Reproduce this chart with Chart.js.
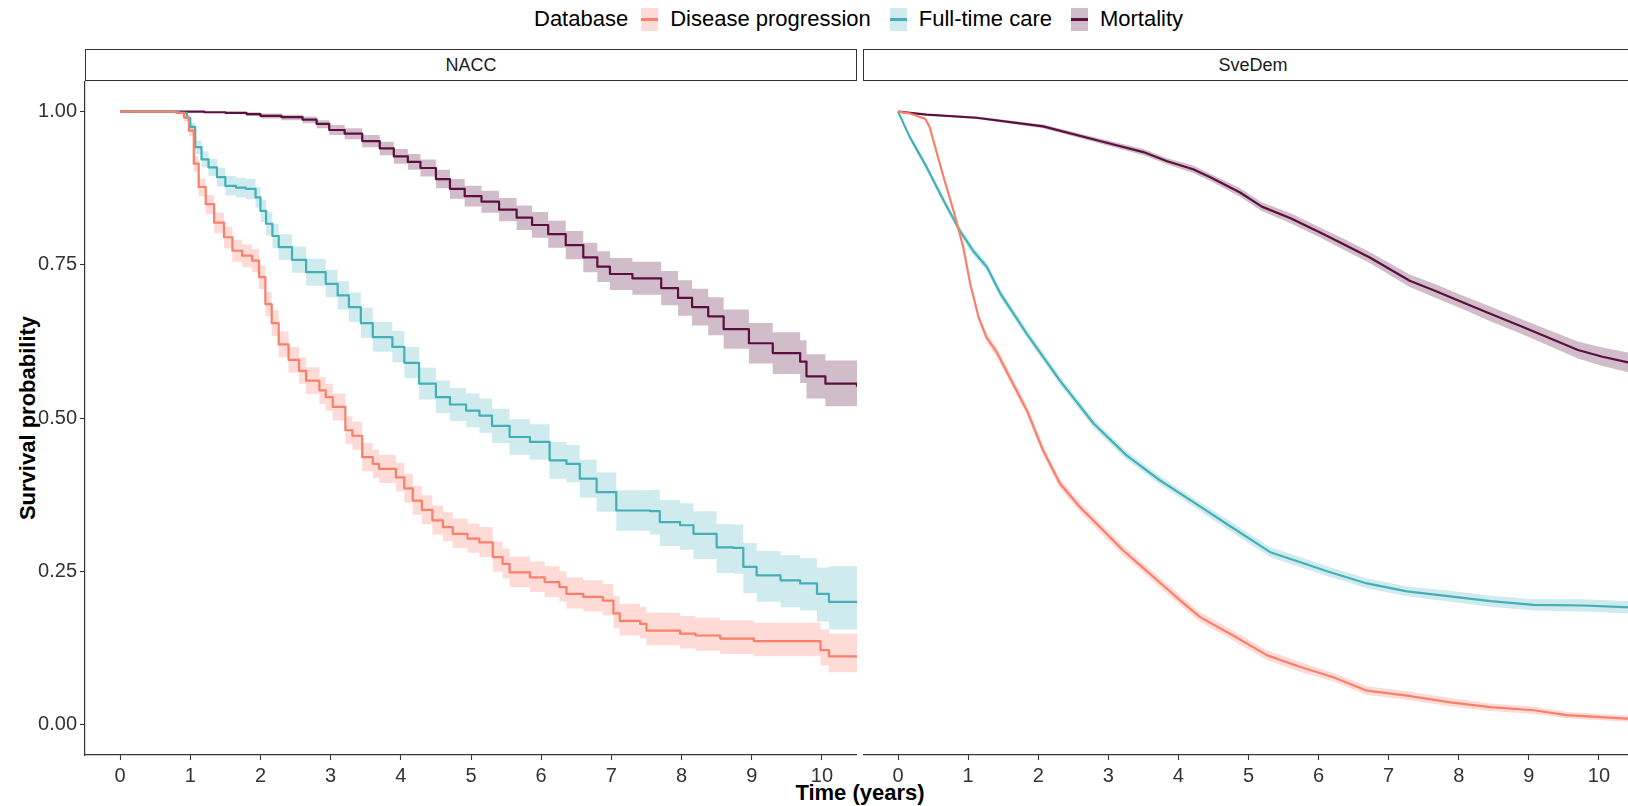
<!DOCTYPE html>
<html>
<head>
<meta charset="utf-8">
<script src="https://cdn.jsdelivr.net/npm/chart.js@4.4.0/dist/chart.umd.min.js"></script>
<style>
    html, body { margin: 0; padding: 0; background: #fff; }
    body { width: 1628px; height: 806px; position: relative; overflow: hidden; font-family: 'Liberation Sans', Arial, sans-serif; }
    canvas { position: absolute; top: 81px; }
    #left { left: 0; }
    #right { left: 863px; }
    .legend { position: absolute; left: 534px; top: 7px; height: 24px; display: flex; align-items: center; font-size: 22px; color: #000; white-space: nowrap; }
    .legend .key { position: relative; width: 17px; height: 23px; margin: 0 12px 0 0; }
    .legend .key span { position: absolute; left: 0; right: 0; top: 10px; height: 3px; }
    .legend .title { margin-right: 13px; }
    .legend .lab { margin-right: 19px; }
    .strip { position: absolute; top: 49px; height: 32px; box-sizing: border-box; border: 1.4px solid #333; background: #fff; font-size: 18px; color: #1a1a1a; display: flex; align-items: center; justify-content: center; }
    .xtitle { position: absolute; left: 0; width: 1720px; top: 780px; text-align: center; font-size: 22px; font-weight: bold; }
    .ytitle { position: absolute; left: 28px; top: 418px; transform: translate(-50%, -50%) rotate(-90deg); font-size: 22px; font-weight: bold; white-space: nowrap; }
</style>
</head>
<body>
<div class="legend" id="legend"><span class="title">Database</span></div>
<div class="strip" style="left:85px;width:772px;">NACC</div>
<div class="strip" style="left:863px;width:780px;">SveDem</div>
<div class="xtitle">Time (years)</div>
<div class="ytitle">Survival probability</div>
<canvas id="left" width="857" height="725"></canvas>
<canvas id="right" width="771" height="725"></canvas>
<script>
// --- legend / series
const seriesNames = ['Disease progression', 'Full-time care', 'Mortality'];
const lineColors = ['#FA7F6A', '#43AFB6', '#5B0F3F'];
const bandColors = ['rgba(250,127,106,0.28)', 'rgba(67,175,182,0.25)', 'rgba(91,15,63,0.28)'];

// --- axes
const xTicks = [0, 1, 2, 3, 4, 5, 6, 7, 8, 9, 10];
const yTicks = [0, 0.25, 0.5, 0.75, 1];

// --- NACC: disease progression
const naccProgTime = [0, 0.80, 0.91, 0.98, 1.05, 1.12, 1.22, 1.34, 1.48, 1.60, 1.74, 1.88, 1.98, 2.07, 2.16, 2.26, 2.40, 2.55, 2.65, 2.84, 2.93, 3.03, 3.21, 3.31, 3.45, 3.60, 3.69, 3.93, 4.05, 4.17, 4.30, 4.45, 4.60, 4.74, 4.95, 5.12, 5.31, 5.45, 5.55, 5.84, 6.05, 6.26, 6.36, 6.60, 6.88, 7.03, 7.12, 7.41, 7.50, 7.98, 8.20, 8.55, 9.03, 9.98, 10.10, 10.50];
const naccProgSurv = [1, 0.998, 0.99, 0.969, 0.915, 0.877, 0.849, 0.819, 0.795, 0.773, 0.765, 0.757, 0.730, 0.686, 0.655, 0.620, 0.595, 0.577, 0.561, 0.545, 0.534, 0.518, 0.480, 0.471, 0.436, 0.425, 0.417, 0.403, 0.385, 0.365, 0.350, 0.333, 0.322, 0.311, 0.303, 0.297, 0.273, 0.262, 0.248, 0.240, 0.232, 0.224, 0.213, 0.208, 0.202, 0.181, 0.169, 0.164, 0.153, 0.148, 0.145, 0.140, 0.136, 0.121, 0.111, 0.111];
const naccProgLow = [1, 0.996, 0.984, 0.960, 0.902, 0.862, 0.833, 0.802, 0.777, 0.755, 0.746, 0.738, 0.710, 0.666, 0.634, 0.599, 0.574, 0.556, 0.539, 0.523, 0.512, 0.496, 0.458, 0.448, 0.413, 0.402, 0.394, 0.380, 0.362, 0.342, 0.327, 0.310, 0.299, 0.288, 0.280, 0.273, 0.249, 0.238, 0.224, 0.216, 0.208, 0.200, 0.189, 0.184, 0.178, 0.157, 0.145, 0.140, 0.129, 0.124, 0.120, 0.115, 0.111, 0.096, 0.085, 0.085];
const naccProgHigh = [1, 1, 0.995, 0.977, 0.927, 0.891, 0.864, 0.835, 0.812, 0.791, 0.783, 0.776, 0.749, 0.706, 0.676, 0.641, 0.616, 0.599, 0.583, 0.567, 0.556, 0.540, 0.503, 0.494, 0.459, 0.448, 0.440, 0.427, 0.409, 0.389, 0.374, 0.357, 0.346, 0.336, 0.328, 0.322, 0.298, 0.287, 0.274, 0.266, 0.258, 0.250, 0.240, 0.235, 0.229, 0.209, 0.197, 0.192, 0.182, 0.177, 0.174, 0.170, 0.166, 0.155, 0.148, 0.148];

// --- NACC: full-time care
const naccCareTime = [0, 0.84, 0.95, 1.00, 1.07, 1.16, 1.26, 1.38, 1.50, 1.65, 1.79, 1.93, 2.00, 2.08, 2.17, 2.26, 2.45, 2.65, 2.93, 3.10, 3.26, 3.43, 3.60, 3.88, 4.05, 4.26, 4.50, 4.70, 4.93, 5.12, 5.30, 5.55, 5.84, 6.12, 6.36, 6.55, 6.79, 7.07, 7.55, 7.69, 7.98, 8.17, 8.50, 8.74, 8.88, 9.07, 9.41, 9.69, 9.93, 10.10, 10.50];
const naccCareSurv = [1, 0.998, 0.99, 0.975, 0.942, 0.922, 0.909, 0.893, 0.879, 0.876, 0.874, 0.860, 0.838, 0.817, 0.797, 0.779, 0.758, 0.738, 0.719, 0.700, 0.681, 0.655, 0.632, 0.616, 0.590, 0.556, 0.534, 0.522, 0.512, 0.504, 0.487, 0.469, 0.461, 0.431, 0.425, 0.401, 0.379, 0.349, 0.348, 0.330, 0.325, 0.311, 0.289, 0.288, 0.257, 0.243, 0.235, 0.230, 0.213, 0.200, 0.200];
const naccCareLow = [1, 0.996, 0.985, 0.967, 0.931, 0.909, 0.895, 0.878, 0.863, 0.860, 0.857, 0.843, 0.820, 0.798, 0.777, 0.758, 0.737, 0.716, 0.697, 0.677, 0.657, 0.631, 0.608, 0.591, 0.565, 0.530, 0.508, 0.495, 0.485, 0.476, 0.459, 0.440, 0.432, 0.401, 0.395, 0.370, 0.347, 0.316, 0.310, 0.291, 0.285, 0.270, 0.247, 0.246, 0.214, 0.200, 0.191, 0.186, 0.168, 0.155, 0.155];
const naccCareHigh = [1, 1, 0.995, 0.982, 0.953, 0.935, 0.923, 0.908, 0.895, 0.892, 0.890, 0.877, 0.856, 0.836, 0.817, 0.800, 0.780, 0.760, 0.742, 0.723, 0.705, 0.680, 0.657, 0.642, 0.616, 0.582, 0.561, 0.549, 0.540, 0.532, 0.515, 0.498, 0.490, 0.461, 0.456, 0.432, 0.411, 0.382, 0.383, 0.366, 0.361, 0.348, 0.327, 0.326, 0.296, 0.283, 0.276, 0.271, 0.256, 0.258, 0.258];

// --- NACC: mortality
const naccMortTime = [0, 1.00, 1.20, 1.50, 1.80, 2.00, 2.30, 2.60, 2.80, 2.98, 3.20, 3.45, 3.70, 3.90, 4.10, 4.28, 4.50, 4.70, 4.91, 5.15, 5.40, 5.65, 5.87, 6.10, 6.35, 6.60, 6.80, 6.98, 7.30, 7.71, 7.95, 8.15, 8.38, 8.60, 8.96, 9.30, 9.69, 9.78, 10.05, 10.50];
const naccMortSurv = [1, 1, 0.999, 0.998, 0.996, 0.993, 0.991, 0.987, 0.980, 0.970, 0.964, 0.952, 0.940, 0.927, 0.918, 0.908, 0.890, 0.874, 0.862, 0.853, 0.840, 0.827, 0.815, 0.800, 0.782, 0.762, 0.747, 0.735, 0.728, 0.712, 0.696, 0.681, 0.666, 0.645, 0.622, 0.606, 0.592, 0.568, 0.556, 0.551];
const naccMortLow = [1, 1, 0.998, 0.996, 0.993, 0.989, 0.986, 0.981, 0.973, 0.962, 0.955, 0.942, 0.929, 0.915, 0.905, 0.894, 0.875, 0.858, 0.845, 0.835, 0.821, 0.807, 0.794, 0.778, 0.759, 0.738, 0.722, 0.709, 0.701, 0.684, 0.667, 0.651, 0.635, 0.613, 0.589, 0.572, 0.557, 0.532, 0.519, 0.507];
const naccMortHigh = [1, 1, 1, 1, 0.999, 0.997, 0.995, 0.992, 0.986, 0.978, 0.973, 0.962, 0.951, 0.939, 0.931, 0.922, 0.905, 0.890, 0.879, 0.871, 0.859, 0.847, 0.836, 0.822, 0.805, 0.786, 0.772, 0.761, 0.755, 0.740, 0.725, 0.711, 0.697, 0.677, 0.655, 0.640, 0.627, 0.604, 0.594, 0.600];

// --- SveDem: disease progression
const sveProgTime = [0, 0.17, 0.39, 0.45, 0.65, 0.79, 0.93, 1.03, 1.15, 1.26, 1.41, 1.64, 1.84, 2.07, 2.31, 2.60, 2.88, 3.20, 3.50, 3.80, 4.05, 4.31, 4.78, 5.26, 5.73, 6.21, 6.69, 7.26, 7.88, 8.45, 9.07, 9.54, 10.45];
const sveProgSurv = [1, 0.997, 0.988, 0.975, 0.893, 0.839, 0.779, 0.719, 0.664, 0.632, 0.607, 0.556, 0.512, 0.447, 0.393, 0.354, 0.322, 0.285, 0.255, 0.225, 0.200, 0.175, 0.145, 0.113, 0.094, 0.077, 0.055, 0.047, 0.036, 0.028, 0.023, 0.015, 0.009];
const sveProgLow = [1, 0.996, 0.986, 0.972, 0.889, 0.834, 0.774, 0.714, 0.659, 0.624, 0.599, 0.548, 0.504, 0.439, 0.385, 0.346, 0.314, 0.277, 0.247, 0.217, 0.192, 0.167, 0.137, 0.105, 0.086, 0.070, 0.048, 0.040, 0.029, 0.022, 0.017, 0.010, 0.004];
const sveProgHigh = [1, 0.998, 0.990, 0.978, 0.897, 0.844, 0.784, 0.724, 0.669, 0.640, 0.615, 0.564, 0.520, 0.455, 0.401, 0.362, 0.330, 0.293, 0.263, 0.233, 0.208, 0.183, 0.153, 0.121, 0.102, 0.084, 0.062, 0.054, 0.043, 0.034, 0.029, 0.020, 0.014];

// --- SveDem: full-time care
const sveCareTime = [0, 0.17, 0.41, 0.65, 0.88, 1.07, 1.27, 1.46, 1.84, 2.31, 2.79, 3.26, 3.74, 4.21, 4.69, 5.31, 5.73, 6.12, 6.69, 7.26, 7.88, 8.45, 9.07, 9.78, 10.45];
const sveCareSurv = [1, 0.958, 0.909, 0.855, 0.806, 0.773, 0.746, 0.703, 0.637, 0.561, 0.491, 0.439, 0.398, 0.363, 0.327, 0.281, 0.265, 0.250, 0.230, 0.217, 0.209, 0.201, 0.195, 0.194, 0.191];
const sveCareLow = [1, 0.954, 0.904, 0.849, 0.800, 0.766, 0.739, 0.696, 0.630, 0.554, 0.484, 0.432, 0.391, 0.356, 0.319, 0.273, 0.257, 0.242, 0.222, 0.209, 0.200, 0.192, 0.186, 0.184, 0.181];
const sveCareHigh = [1, 0.962, 0.914, 0.861, 0.812, 0.780, 0.753, 0.710, 0.644, 0.568, 0.498, 0.446, 0.405, 0.370, 0.335, 0.289, 0.273, 0.258, 0.238, 0.225, 0.218, 0.210, 0.204, 0.204, 0.201];

// --- SveDem: mortality
const sveMortTime = [0, 0.41, 1.12, 2.07, 2.88, 3.50, 3.84, 4.21, 4.47, 4.88, 5.19, 5.60, 6.00, 6.35, 6.73, 7.30, 7.65, 8.07, 8.45, 8.88, 9.30, 9.70, 10.05, 10.45];
const sveMortSurv = [1, 0.995, 0.990, 0.976, 0.952, 0.934, 0.919, 0.906, 0.892, 0.868, 0.845, 0.826, 0.804, 0.784, 0.762, 0.724, 0.708, 0.688, 0.670, 0.650, 0.630, 0.611, 0.600, 0.590];
const sveMortLow = [1, 0.994, 0.988, 0.973, 0.948, 0.929, 0.914, 0.900, 0.886, 0.861, 0.838, 0.818, 0.796, 0.775, 0.753, 0.714, 0.697, 0.677, 0.658, 0.638, 0.617, 0.597, 0.585, 0.574];
const sveMortHigh = [1, 0.996, 0.992, 0.979, 0.956, 0.939, 0.924, 0.912, 0.898, 0.875, 0.852, 0.834, 0.812, 0.793, 0.771, 0.734, 0.719, 0.699, 0.682, 0.662, 0.643, 0.625, 0.615, 0.606];

const FONT = "'Liberation Sans', Arial, sans-serif";
const AXIS_COLOR = '#333333';

const toPoints = (times, values) => times.map((t, i) => ({ x: t, y: values[i] }));

/**
 * Build band + line datasets for one facet.
 * @param {Array} groups - [{ time, surv, low, high }] in legend order.
 * @param {boolean} stepped - Kaplan-Meier steps or plain segments.
 */
function buildDatasets(groups, stepped) {
    const bands = [];
    const lines = [];

    groups.forEach((g, i) => {
        bands.push({
            data: toPoints(g.time, g.high),
            borderWidth: 0,
            backgroundColor: bandColors[i],
            fill: '+1',
            stepped,
            order: 2
        });
        bands.push({
            data: toPoints(g.time, g.low),
            borderWidth: 0,
            backgroundColor: bandColors[i],
            fill: false,
            stepped,
            order: 2
        });
        lines.push({
            label: seriesNames[i],
            data: toPoints(g.time, g.surv),
            borderColor: lineColors[i],
            borderWidth: 2.2,
            fill: false,
            stepped,
            order: 1
        });
    });

    return bands.concat(lines);
}

// plot area edges are fixed by hand, so drop the label overhang padding chart.js adds
const noPad = (scale) => {
    scale.paddingTop = 0;
    scale.paddingBottom = 0;
    scale.paddingLeft = 0;
    scale.paddingRight = 0;
};

function facetOptions(showY) {
    return {
        responsive: false,
        animation: false,
        events: [],
        layout: { padding: 0 },
        elements: { point: { radius: 0 }, line: { tension: 0, borderJoinStyle: 'round' } },
        plugins: { legend: { display: false }, tooltip: { enabled: false } },
        scales: {
            x: {
                type: 'linear',
                min: -0.5,
                max: 10.5,
                afterBuildTicks: (scale) => { scale.ticks = xTicks.map(v => ({ value: v })); },
                afterFit: (scale) => { scale.height = 51; noPad(scale); },
                grid: { drawOnChartArea: false, drawTicks: true, tickLength: 5, tickColor: AXIS_COLOR, tickWidth: 1.1 },
                border: { display: true, color: AXIS_COLOR, width: 1.2 },
                ticks: {
                    color: AXIS_COLOR,
                    font: { family: FONT, size: 20 },
                    padding: 4,
                    maxRotation: 0,
                    autoSkip: false,
                    callback: (v) => String(v)
                }
            },
            y: {
                type: 'linear',
                display: showY,
                min: -0.05,
                max: 1.05,
                afterBuildTicks: (scale) => { scale.ticks = yTicks.map(v => ({ value: v })); },
                afterFit: (scale) => { scale.width = showY ? 85 : 0; noPad(scale); },
                grid: { drawOnChartArea: false, drawTicks: true, tickLength: 5, tickColor: AXIS_COLOR, tickWidth: 1.1 },
                border: { display: true, color: AXIS_COLOR, width: 1.2 },
                ticks: {
                    color: AXIS_COLOR,
                    font: { family: FONT, size: 20 },
                    padding: 3,
                    autoSkip: false,
                    callback: (v) => v.toFixed(2)
                }
            }
        }
    };
}

const naccGroups = [
    { time: naccProgTime, surv: naccProgSurv, low: naccProgLow, high: naccProgHigh },
    { time: naccCareTime, surv: naccCareSurv, low: naccCareLow, high: naccCareHigh },
    { time: naccMortTime, surv: naccMortSurv, low: naccMortLow, high: naccMortHigh }
];
const sveGroups = [
    { time: sveProgTime, surv: sveProgSurv, low: sveProgLow, high: sveProgHigh },
    { time: sveCareTime, surv: sveCareSurv, low: sveCareLow, high: sveCareHigh },
    { time: sveMortTime, surv: sveMortSurv, low: sveMortLow, high: sveMortHigh }
];

new Chart(document.getElementById('left'), {
    type: 'line',
    data: { datasets: buildDatasets(naccGroups, true) },
    options: facetOptions(true)
});

new Chart(document.getElementById('right'), {
    type: 'line',
    data: { datasets: buildDatasets(sveGroups, false) },
    options: facetOptions(false)
});

// legend keys: band fill with the line across it
const legend = document.getElementById('legend');
seriesNames.forEach((name, i) => {
    const key = document.createElement('div');
    key.className = 'key';
    key.style.background = bandColors[i];
    const bar = document.createElement('span');
    bar.style.background = lineColors[i];
    key.appendChild(bar);

    const lab = document.createElement('span');
    lab.className = 'lab';
    lab.textContent = name;

    legend.appendChild(key);
    legend.appendChild(lab);
});
</script>
</body>
</html>
